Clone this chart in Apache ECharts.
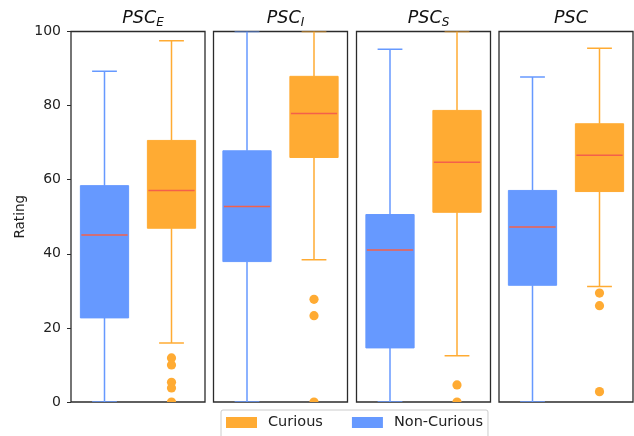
<!DOCTYPE html>
<html>
<head>
<meta charset="utf-8">
<script src="https://cdn.jsdelivr.net/npm/echarts@6/dist/echarts.min.js"></script>
<style>html,body{margin:0;padding:0;background:#fff;}#c{width:634px;height:436px;}</style>
</head>
<body>
<div id="c"></div>
<script>
// ---- data ----
const panelMain = ['PSC', 'PSC', 'PSC', 'PSC'];
const panelSub = ['E', 'I', 'S', ''];
const groups = ['Non-Curious', 'Curious'];
// [lower whisker, Q1, median, Q3, upper whisker]
const nonCurious = [
  [0, 22.7, 45.1, 58.4, 89.3],
  [0, 37.9, 52.8, 67.8, 100],
  [0, 14.6, 41.0, 50.6, 95.2],
  [0, 31.5, 47.2, 57.1, 87.7]
];
const curious = [
  [15.9, 46.9, 57.1, 70.6, 97.5],
  [38.4, 66.0, 77.9, 87.9, 100],
  [12.5, 51.2, 64.7, 78.7, 100],
  [31.2, 56.8, 66.6, 75.1, 95.5]
];
const curiousOutliers = [
  [11.9, 10.0, 5.3, 3.8, 0],
  [27.7, 23.3, 0],
  [4.6, 0],
  [29.4, 26.0, 2.8]
];
const yTicks = [0, 20, 40, 60, 80, 100];

// ---- styling ----
const BLUE = '#6699ff', ORANGE = '#ffab33', MEDIAN = '#f4604a', FRAME = '#2b2b2b';
const FONT = 'DejaVu Sans';
const gridLefts = [71, 213.5, 356.5, 499];
const gridW = 134, gridTop = 31.5, gridH = 370.5;

function boxRender(color) {
  return function (params, api) {
    const x = api.value(0);
    const lo = api.coord([x, api.value(1)]);
    const q1 = api.coord([x, api.value(2)]);
    const md = api.coord([x, api.value(3)]);
    const q3 = api.coord([x, api.value(4)]);
    const hi = api.coord([x, api.value(5)]);
    const band = api.size([1, 0])[0];
    const bw = band * 0.72, cw = band * 0.37;
    const cx = lo[0];
    const ls = { stroke: color, lineWidth: 1.5 };
    return {
      type: 'group',
      children: [
        { type: 'line', shape: { x1: cx, y1: lo[1], x2: cx, y2: q1[1] }, style: ls },
        { type: 'line', shape: { x1: cx, y1: q3[1], x2: cx, y2: hi[1] }, style: ls },
        { type: 'line', shape: { x1: cx - cw / 2, y1: lo[1], x2: cx + cw / 2, y2: lo[1] }, style: ls },
        { type: 'line', shape: { x1: cx - cw / 2, y1: hi[1], x2: cx + cw / 2, y2: hi[1] }, style: ls },
        { type: 'rect', shape: { x: cx - bw / 2, y: q3[1], width: bw, height: q1[1] - q3[1] },
          style: { fill: color, stroke: color, lineWidth: 1, opacity: 1 } },
        { type: 'line', shape: { x1: cx - bw / 2 + 1, y1: md[1], x2: cx + bw / 2 - 1, y2: md[1] },
          style: { stroke: MEDIAN, lineWidth: 1.5 } }
      ]
    };
  };
}
function dotRender(params, api) {
  const p = api.coord([api.value(0), api.value(1)]);
  return { type: 'circle', shape: { cx: p[0], cy: p[1], r: 4.6 }, style: { fill: ORANGE } };
}

const grid = [], xAxis = [], yAxis = [], series = [], title = [];
for (let i = 0; i < 4; i++) {
  grid.push({ left: gridLefts[i], top: gridTop, width: gridW, height: gridH,
    show: true, borderColor: FRAME, borderWidth: 1.3, backgroundColor: 'transparent' });
  xAxis.push({ type: 'category', gridIndex: i, data: groups, boundaryGap: true,
    axisLine: { show: false }, axisTick: { show: false }, axisLabel: { show: false }, splitLine: { show: false } });
  yAxis.push({ type: 'value', gridIndex: i, min: 0, max: 100, interval: 20,
    name: i === 0 ? 'Rating' : '', nameLocation: 'middle', nameGap: 44,
    nameTextStyle: { fontFamily: FONT, fontSize: 13.5, color: '#222' },
    axisLine: { show: false },
    axisTick: { show: i === 0, length: 4, lineStyle: { color: FRAME, width: 1 } },
    axisLabel: { show: i === 0, fontFamily: FONT, fontSize: 14, color: '#222', margin: 10 },
    splitLine: { show: false } });
  const sub = panelSub[i];
  title.push({
    text: sub ? '{m|' + panelMain[i] + '}{s|' + sub + '}' : '{m|' + panelMain[i] + '}',
    left: gridLefts[i] + gridW / 2, top: 2, textAlign: 'center',
    textStyle: { fontWeight: 'normal', rich: {
      m: { fontFamily: FONT, fontSize: 17.5, fontStyle: 'italic', fontWeight: 'normal', color: '#111', lineHeight: 22 },
      s: { fontFamily: FONT, fontSize: 12, fontStyle: 'italic', fontWeight: 'normal', color: '#111', lineHeight: 11, verticalAlign: 'bottom' }
    } }
  });
  series.push({
    name: 'Non-Curious', type: 'custom', xAxisIndex: i, yAxisIndex: i, clip: true,
    itemStyle: { color: BLUE }, renderItem: boxRender(BLUE),
    encode: { x: 0, y: [1, 2, 3, 4, 5] },
    data: [[0].concat(nonCurious[i])]
  });
  series.push({
    name: 'Curious', type: 'custom', xAxisIndex: i, yAxisIndex: i, clip: true,
    itemStyle: { color: ORANGE }, renderItem: boxRender(ORANGE),
    encode: { x: 0, y: [1, 2, 3, 4, 5] },
    data: [[1].concat(curious[i])]
  });
  series.push({
    name: 'Curious', type: 'custom', xAxisIndex: i, yAxisIndex: i, clip: true,
    itemStyle: { color: ORANGE }, renderItem: dotRender,
    encode: { x: 0, y: 1 },
    data: curiousOutliers[i].map(v => [1, v])
  });
}

const chart = echarts.init(document.getElementById('c'), null, { renderer: 'canvas' });
chart.setOption({
  animation: false,
  backgroundColor: '#fff',
  title: title,
  grid: grid, xAxis: xAxis, yAxis: yAxis, series: series,
  legend: {
    data: ['Curious', 'Non-Curious'],
    left: 221, top: 410,
    icon: 'rect', itemWidth: 31, itemHeight: 11, itemGap: 29,
    borderColor: '#cccccc', borderWidth: 1, borderRadius: 2,
    padding: [5, 5, 8, 5],
    textStyle: { fontFamily: FONT, fontSize: 14.5, color: '#222', padding: [0, 0, 0, 6] }
  }
});
</script>
</body>
</html>
